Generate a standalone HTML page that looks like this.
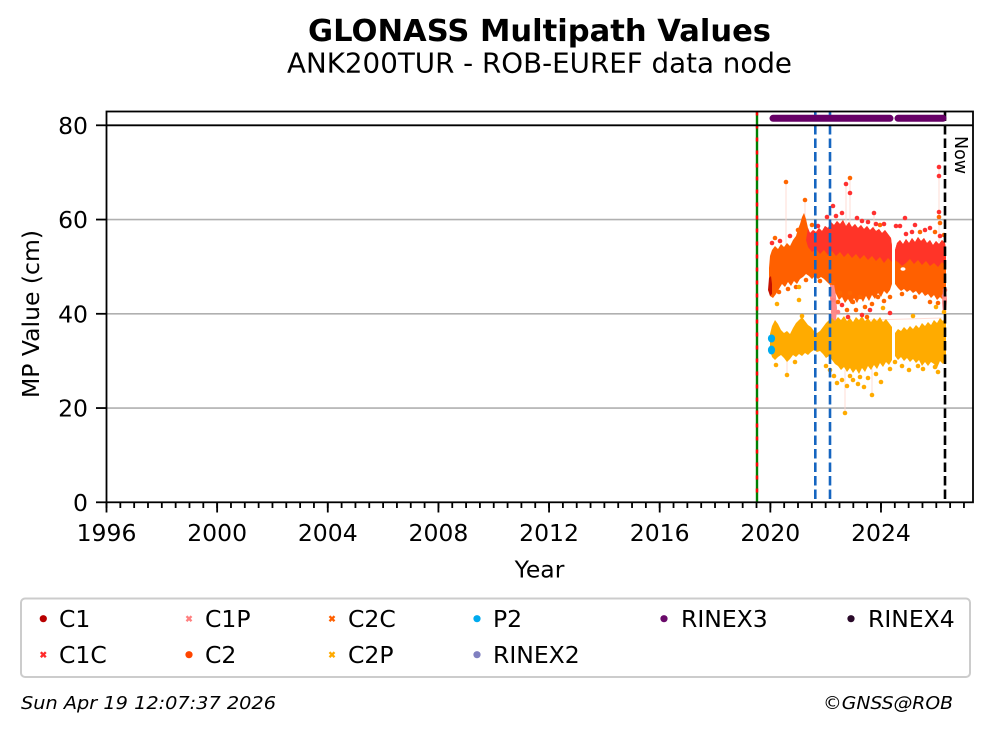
<!DOCTYPE html>
<html>
<head>
<meta charset="utf-8">
<style>
html,body{margin:0;padding:0;background:#fff;}
svg{display:block;}
text{font-family:"DejaVu Sans","Liberation Sans",sans-serif;fill:#000;}
</style>
</head>
<body>
<svg width="992" height="734" viewBox="0 0 992 734" xmlns="http://www.w3.org/2000/svg">
<rect x="0" y="0" width="992" height="734" fill="#fff"/>

<!-- Titles -->
<text x="539.5" y="41" text-anchor="middle" font-size="30" font-weight="bold" textLength="463" lengthAdjust="spacingAndGlyphs">GLONASS Multipath Values</text>
<text x="539.5" y="72.7" text-anchor="middle" font-size="27.5" textLength="505" lengthAdjust="spacingAndGlyphs">ANK200TUR - ROB-EUREF data node</text>

<!-- grid -->
<g stroke="#b0b0b0" stroke-width="1.6">
<line x1="106.5" y1="408.05" x2="973" y2="408.05"/>
<line x1="106.5" y1="313.8" x2="973" y2="313.8"/>
<line x1="106.5" y1="219.55" x2="973" y2="219.55"/>
</g>

<!-- green/red vertical line -->
<line x1="757" y1="111.5" x2="757" y2="502.3" stroke="#008000" stroke-width="2.4"/>
<line x1="757" y1="111.5" x2="757" y2="502.3" stroke="#ff0000" stroke-width="2.4" stroke-dasharray="4 9"/>

<!-- faint connecting lines -->
<g stroke="#ffd6cc" stroke-width="1" opacity="0.8">
<line x1="786" y1="182" x2="786" y2="245"/>
<line x1="805" y1="200" x2="805" y2="230"/>
<line x1="850" y1="178" x2="850" y2="225"/>
<line x1="846" y1="184" x2="846" y2="225"/>
<line x1="939" y1="167" x2="939" y2="242"/>
<line x1="874" y1="213" x2="874" y2="228"/>
<line x1="845" y1="413" x2="845" y2="370"/>
<line x1="872" y1="395" x2="872" y2="368"/>
<line x1="787" y1="375" x2="787" y2="360"/>
<line x1="870" y1="320" x2="942" y2="318"/>
</g>

<!-- Orange/red cloud segment A -->
<polygon fill="#ff6000" points="769,268 770,256 772,250 775,246 778,249 781,244 784,247 787,243 790,246 793,240 796,236 798,229 800,224 802,217 804,213 806,219 808,228 810,233 813,230 816,232 819,228 822,231 825,226 828,228 831,222 834,225 837,221 840,224 843,220 846,226 849,222 852,227 855,224 858,228 861,225 864,229 867,226 870,230 873,227 876,231 879,229 882,233 885,230 888,234 891,238 892,246 892,284 890,290 887,294 884,291 881,297 878,293 875,299 872,295 869,301 866,296 863,302 860,297 857,303 854,298 851,304 848,299 845,303 842,297 839,300 836,294 833,290 830,285 827,282 824,279 821,277 818,279 815,276 812,279 809,276 806,274 803,277 800,279 797,284 794,281 791,286 788,282 785,287 782,284 779,289 776,294 773,298 770,296 769,284"/>
<polygon fill="#ff3428" points="806,240 808,228 810,233 813,230 816,232 819,228 822,231 825,226 828,228 831,222 834,225 837,221 840,224 843,220 846,226 849,222 852,227 855,224 858,228 861,225 864,229 867,226 870,230 873,227 876,231 879,229 882,233 885,230 888,234 891,238 892,246 892,262 888,258 884,263 880,257 876,261 872,256 868,260 864,255 860,259 856,254 852,258 848,253 844,257 840,252 836,256 832,251 828,255 824,250 820,254 816,249 812,252 808,247"/>
<!-- dark red C1 at left -->
<polygon fill="#c41000" points="769,278 771,276 772,284 772,294 770,296 768,290"/>

<!-- Orange/red cloud segment B -->
<polygon fill="#ff6000" points="895,250 897,243 900,240 903,244 906,239 909,243 912,238 915,242 918,237 921,241 924,238 927,243 930,240 933,245 936,241 939,244 942,240 945,243 946,250 946,296 943,300 940,297 937,300 934,295 931,298 928,294 925,296 922,292 919,295 916,291 913,293 910,290 907,292 904,289 901,291 898,288 895,284"/>
<polygon fill="#ff3428" points="895,250 897,243 900,240 903,244 906,239 909,243 912,238 915,242 918,237 921,241 924,238 927,243 930,240 933,245 936,241 939,244 942,240 945,243 946,250 946,266 942,262 938,267 934,263 930,266 926,261 922,265 918,260 914,264 910,259 906,263 902,266 898,262 895,260"/>
<ellipse cx="903" cy="269" rx="2.5" ry="1.8" fill="#fff"/>

<!-- salmon C1P -->
<polygon fill="#ff8a8a" points="830,285 834,284 836,296 837,308 836,322 833,328 830,326 831,312 830,298"/>
<polygon fill="#ff8a8a" points="943,290 946,288 947,300 946,312 943,314 942,302"/>

<!-- Yellow C2P segment A -->
<polygon fill="#ffab00" points="770,334 772,326 775,320 778,324 781,330 784,333 787,331 790,334 793,328 796,323 799,320 802,317 805,321 808,325 811,327 814,331 817,333 820,331 823,327 826,323 829,320 832,318 835,321 838,317 841,320 844,316 847,321 850,318 853,322 856,317 859,320 862,316 865,321 868,318 871,322 874,318 877,321 880,317 883,322 886,319 889,323 892,327 892,360 889,365 886,362 883,367 880,363 877,369 874,365 871,370 868,366 865,372 862,368 859,374 856,369 853,373 850,368 847,372 844,367 841,370 838,366 835,364 832,360 829,356 826,358 823,354 820,351 817,352 814,350 811,352 808,355 805,353 802,356 799,354 796,357 793,355 790,359 787,362 784,358 781,355 778,357 775,360 772,357 770,350"/>
<!-- Yellow segment B -->
<polygon fill="#ffab00" points="895,333 898,329 901,331 904,327 907,330 910,326 913,329 916,325 919,328 922,323 925,326 928,322 931,325 934,320 937,323 940,318 943,321 946,316 946,360 943,364 940,361 937,368 934,364 931,362 928,366 925,362 922,366 919,360 916,363 913,359 910,362 907,358 904,361 901,357 898,360 895,356"/>

<!-- P2 blue -->
<ellipse cx="771.5" cy="338.5" rx="3.6" ry="4" fill="#00aaee"/>
<ellipse cx="771.5" cy="350" rx="3.6" ry="4.5" fill="#00aaee"/>

<!-- outliers -->
<g fill="#ff6600">
<circle cx="786" cy="182" r="2.3"/><circle cx="805" cy="200" r="2.3"/><circle cx="850" cy="178" r="2.3"/>
<circle cx="940" cy="223" r="2.3"/><circle cx="939" cy="217" r="2.3"/><circle cx="833" cy="283" r="2.3"/>
<circle cx="840" cy="293" r="2.3"/><circle cx="850" cy="293" r="2.3"/><circle cx="853" cy="302" r="2.3"/>
<circle cx="860" cy="297" r="2.3"/><circle cx="865" cy="307" r="2.3"/><circle cx="867" cy="317" r="2.3"/>
<circle cx="878" cy="297" r="2.3"/><circle cx="847" cy="310" r="2.3"/><circle cx="775" cy="238" r="2.3"/>
<circle cx="798" cy="230" r="2.3"/><circle cx="812" cy="225" r="2.3"/><circle cx="880" cy="225" r="2.3"/>
<circle cx="935" cy="232" r="2.3"/><circle cx="920" cy="232" r="2.3"/><circle cx="944" cy="235" r="2.3"/>
<circle cx="856" cy="310" r="2.3"/><circle cx="872" cy="304" r="2.3"/><circle cx="838" cy="302" r="2.3"/>
<circle cx="779" cy="292" r="2.3"/><circle cx="788" cy="289" r="2.3"/><circle cx="796" cy="287" r="2.3"/>
<circle cx="806" cy="280" r="2.3"/><circle cx="820" cy="281" r="2.3"/><circle cx="884" cy="301" r="2.3"/>
<circle cx="902" cy="294" r="2.3"/><circle cx="915" cy="297" r="2.3"/><circle cx="930" cy="302" r="2.3"/>
<circle cx="938" cy="303" r="2.3"/><circle cx="890" cy="297" r="2.3"/>
</g>
<g fill="#ff3030">
<circle cx="846" cy="184" r="2.3"/><circle cx="850" cy="193" r="2.3"/><circle cx="833" cy="206" r="2.3"/>
<circle cx="827" cy="217" r="2.3"/><circle cx="874" cy="213" r="2.3"/><circle cx="905" cy="218" r="2.3"/>
<circle cx="939" cy="167" r="2.3"/><circle cx="939" cy="176" r="2.3"/><circle cx="939" cy="212" r="2.3"/>
<circle cx="890" cy="313" r="2.3"/><circle cx="857" cy="218" r="2.3"/><circle cx="868" cy="222" r="2.3"/>
<circle cx="896" cy="226" r="2.3"/><circle cx="900" cy="226" r="2.3"/><circle cx="915" cy="225" r="2.3"/>
<circle cx="925" cy="230" r="2.3"/><circle cx="930" cy="228" r="2.3"/><circle cx="912" cy="232" r="2.3"/>
<circle cx="884" cy="224" r="2.3"/><circle cx="772" cy="243" r="2.3"/><circle cx="780" cy="241" r="2.3"/>
<circle cx="790" cy="236" r="2.3"/><circle cx="862" cy="315" r="2.3"/><circle cx="870" cy="310" r="2.3"/>
<circle cx="842" cy="305" r="2.3"/><circle cx="848" cy="317" r="2.3"/><circle cx="842" cy="213" r="2.3"/>
<circle cx="818" cy="226" r="2.3"/><circle cx="836" cy="216" r="2.3"/><circle cx="862" cy="221" r="2.3"/>
<circle cx="876" cy="224" r="2.3"/><circle cx="906" cy="234" r="2.3"/><circle cx="940" cy="236" r="2.3"/>
</g>
<g fill="#ffab00">
<circle cx="787" cy="375" r="2.3"/><circle cx="845" cy="413" r="2.3"/><circle cx="872" cy="395" r="2.3"/>
<circle cx="864" cy="387" r="2.3"/><circle cx="881" cy="382" r="2.3"/><circle cx="890" cy="369" r="2.3"/>
<circle cx="837" cy="383" r="2.3"/><circle cx="842" cy="380" r="2.3"/><circle cx="853" cy="380" r="2.3"/>
<circle cx="860" cy="377" r="2.3"/><circle cx="799" cy="287" r="2.3"/><circle cx="799" cy="300" r="2.3"/>
<circle cx="802" cy="316" r="2.3"/><circle cx="913" cy="316" r="2.3"/><circle cx="936" cy="307" r="2.3"/>
<circle cx="883" cy="308" r="2.3"/><circle cx="935" cy="367" r="2.3"/><circle cx="938" cy="372" r="2.3"/>
<circle cx="923" cy="369" r="2.3"/><circle cx="777" cy="304" r="2.3"/><circle cx="944" cy="312" r="2.3"/>
<circle cx="909" cy="370" r="2.3"/><circle cx="850" cy="376" r="2.3"/><circle cx="858" cy="384" r="2.3"/>
<circle cx="830" cy="370" r="2.3"/><circle cx="826" cy="366" r="2.3"/><circle cx="876" cy="374" r="2.3"/>
<circle cx="868" cy="378" r="2.3"/><circle cx="834" cy="376" r="2.3"/><circle cx="847" cy="386" r="2.3"/>
<circle cx="776" cy="365" r="2.3"/><circle cx="795" cy="362" r="2.3"/><circle cx="918" cy="366" r="2.3"/>
<circle cx="902" cy="366" r="2.3"/><circle cx="895" cy="362" r="2.3"/>
</g>
<g fill="#ff8080">
<circle cx="833" cy="300" r="2.3"/><circle cx="838" cy="312" r="2.3"/>
<circle cx="944" cy="296" r="2.3"/><circle cx="945" cy="290" r="2.3"/>
</g>

<!-- blue dashed lines -->
<g stroke="#1565c0" stroke-width="2.6" stroke-dasharray="9.5 4">
<line x1="815.3" y1="111.5" x2="815.3" y2="502.3"/>
<line x1="830" y1="111.5" x2="830" y2="502.3"/>
</g>
<!-- Now line -->
<line x1="945" y1="111.5" x2="945" y2="502.3" stroke="#000" stroke-width="2.6" stroke-dasharray="9.5 4"/>
<text transform="translate(955,136) rotate(90)" font-size="17.5">Now</text>

<!-- black line at 80 -->
<line x1="106.5" y1="125.3" x2="973" y2="125.3" stroke="#000" stroke-width="1.8"/>

<!-- RINEX3 bar -->
<g stroke="#660066" stroke-width="7" stroke-linecap="round">
<line x1="773" y1="118.3" x2="890" y2="118.3"/>
<line x1="898" y1="118.3" x2="943" y2="118.3"/>
</g>

<!-- spines -->
<rect x="106.5" y="111.5" width="866.5" height="390.8" fill="none" stroke="#000" stroke-width="1.8"/>

<!-- y ticks -->
<g stroke="#000" stroke-width="1.8">
<line x1="96" y1="502.3" x2="106.5" y2="502.3"/>
<line x1="96" y1="408.05" x2="106.5" y2="408.05"/>
<line x1="96" y1="313.8" x2="106.5" y2="313.8"/>
<line x1="96" y1="219.55" x2="106.5" y2="219.55"/>
<line x1="96" y1="125.3" x2="106.5" y2="125.3"/>
</g>
<g font-size="23.5" text-anchor="end">
<text x="88" y="510.9">0</text>
<text x="88" y="416.6">20</text>
<text x="88" y="322.4">40</text>
<text x="88" y="228.1">60</text>
<text x="88" y="133.9">80</text>
</g>

<!-- x minor ticks -->
<line x1="105.6" y1="505" x2="966" y2="505" stroke="#000" stroke-width="6" stroke-dasharray="1.8 12.03"/>
<!-- x major ticks -->
<g stroke="#000" stroke-width="1.8">
<line x1="106.5" y1="502.3" x2="106.5" y2="512.5"/>
<line x1="217.14" y1="502.3" x2="217.14" y2="512.5"/>
<line x1="327.78" y1="502.3" x2="327.78" y2="512.5"/>
<line x1="438.42" y1="502.3" x2="438.42" y2="512.5"/>
<line x1="549.06" y1="502.3" x2="549.06" y2="512.5"/>
<line x1="659.7" y1="502.3" x2="659.7" y2="512.5"/>
<line x1="770.34" y1="502.3" x2="770.34" y2="512.5"/>
<line x1="880.98" y1="502.3" x2="880.98" y2="512.5"/>
</g>
<g font-size="23.5" text-anchor="middle">
<text x="106.5" y="541">1996</text>
<text x="217.14" y="541">2000</text>
<text x="327.78" y="541">2004</text>
<text x="438.42" y="541">2008</text>
<text x="549.06" y="541">2012</text>
<text x="659.7" y="541">2016</text>
<text x="770.34" y="541">2020</text>
<text x="880.98" y="541">2024</text>
</g>

<!-- axis labels -->
<text x="539.5" y="577.5" font-size="23.5" text-anchor="middle">Year</text>
<text transform="translate(39,314) rotate(-90)" font-size="23.5" text-anchor="middle">MP Value (cm)</text>

<!-- legend -->
<rect x="21" y="598.5" width="949" height="78.5" rx="4" ry="4" fill="#fff" stroke="#cccccc" stroke-width="2"/>
<g>
<circle cx="43.3" cy="618.7" r="3.6" fill="#b80000"/>
<g stroke="#ff8080" stroke-width="2.4"><line x1="186.5" y1="616.2" x2="191.5" y2="621.2"/><line x1="191.5" y1="616.2" x2="186.5" y2="621.2"/></g>
<g stroke="#ff6000" stroke-width="2.4"><line x1="329.5" y1="616.2" x2="334.5" y2="621.2"/><line x1="334.5" y1="616.2" x2="329.5" y2="621.2"/></g>
<circle cx="477" cy="618.7" r="3.6" fill="#00aaee"/>
<circle cx="664" cy="618.7" r="3.6" fill="#6a0a6a"/>
<circle cx="851" cy="618.7" r="3.6" fill="#2a0a2a"/>
<g stroke="#ff2a2a" stroke-width="2.4"><line x1="40.8" y1="652.2" x2="45.8" y2="657.2"/><line x1="45.8" y1="652.2" x2="40.8" y2="657.2"/></g>
<circle cx="189" cy="654.7" r="3.6" fill="#ff4500"/>
<g stroke="#ffaa00" stroke-width="2.4"><line x1="329.5" y1="652.2" x2="334.5" y2="657.2"/><line x1="334.5" y1="652.2" x2="329.5" y2="657.2"/></g>
<circle cx="477" cy="654.7" r="3.6" fill="#8080c0"/>
</g>
<g font-size="23.5">
<text x="59" y="627">C1</text>
<text x="205" y="627">C1P</text>
<text x="348" y="627">C2C</text>
<text x="493" y="627">P2</text>
<text x="681" y="627">RINEX3</text>
<text x="868" y="627">RINEX4</text>
<text x="59" y="663">C1C</text>
<text x="205" y="663">C2</text>
<text x="348" y="663">C2P</text>
<text x="493" y="663">RINEX2</text>
</g>

<!-- footnotes -->
<text x="21" y="709" font-size="18" font-style="italic" textLength="255" lengthAdjust="spacingAndGlyphs">Sun Apr 19 12:07:37 2026</text>
<text x="953" y="709" font-size="18" font-style="italic" text-anchor="end" textLength="130" lengthAdjust="spacingAndGlyphs">©GNSS@ROB</text>
</svg>
</body>
</html>
